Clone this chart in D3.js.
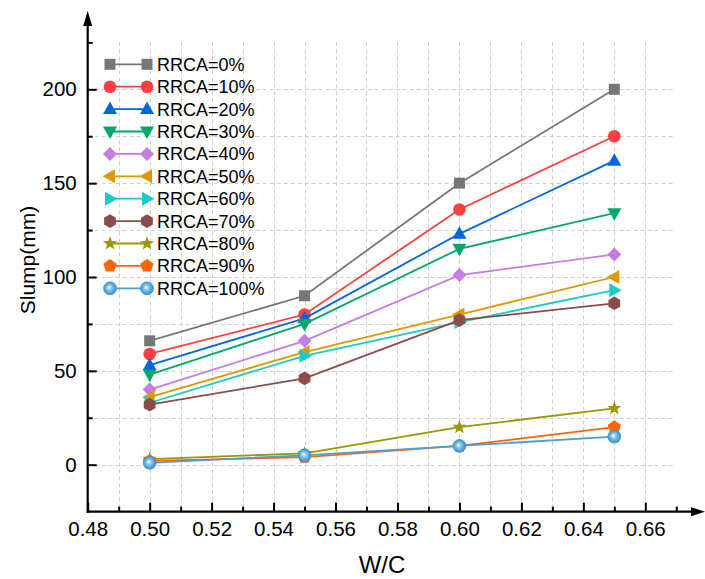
<!DOCTYPE html>
<html>
<head>
<meta charset="utf-8">
<script src="https://cdn.jsdelivr.net/npm/d3@7"></script>
<style>
  body { margin: 0; background: #fff; }
  svg { display: block; font-family: Arial, "Liberation Sans", sans-serif; }
</style>
</head>
<body>
<div id="viz"></div>
<script>
// data
var wc = [0.50, 0.55, 0.60, 0.65];
var names = ["RRCA=0%", "RRCA=10%", "RRCA=20%", "RRCA=30%", "RRCA=40%", "RRCA=50%",
             "RRCA=60%", "RRCA=70%", "RRCA=80%", "RRCA=90%", "RRCA=100%"];
var rrca0   = [66, 90, 150, 200];
var rrca10  = [59, 80, 136, 175];
var rrca20  = [53, 78, 123, 162];
var rrca30  = [48, 75, 115, 134];
var rrca40  = [40, 66, 101, 112];
var rrca50  = [36, 60, 80, 100];
var rrca60  = [33, 58, 76, 93];
var rrca70  = [32, 46, 77, 86];
var rrca80  = [3, 6, 20, 30];
var rrca90  = [2, 4, 10, 20];
var rrca100 = [1, 5, 10, 15];
var xTicks = [0.48, 0.50, 0.52, 0.54, 0.56, 0.58, 0.60, 0.62, 0.64, 0.66];
var xMinor = [0.49, 0.51, 0.53, 0.55, 0.57, 0.59, 0.61, 0.63, 0.65, 0.67];
var yTicks = [0, 50, 100, 150, 200];
var yMinor = [25, 75, 125, 175, 225];

var values = [rrca0, rrca10, rrca20, rrca30, rrca40, rrca50, rrca60, rrca70, rrca80, rrca90, rrca100];
var colours = ["#777777", "#ff4040", "#0066e0", "#00a86b", "#c77ce3", "#dc9a00",
               "#18cccc", "#8a4b4b", "#999900", "#ff6600", "#4a9fd5"];
var shapes = ["square", "circle", "up", "down", "diamond", "left", "right", "hex", "star", "pent", "ball"];

var w = 705, h = 579;
var x = d3.scaleLinear().domain([0.48, 0.66]).range([87.7, 645.3]);
var y = d3.scaleLinear().domain([0, 200]).range([464.7, 89.3]);
var yBottom = y(-25), yTop = y(225), xRight = x(0.6695);

var svg = d3.select("#viz").append("svg")
  .attr("width", w)
  .attr("height", h);

var defs = svg.append("defs");
var grad = defs.append("radialGradient")
  .attr("id", "ball")
  .attr("cx", "0.5").attr("cy", "0.5").attr("r", "0.55")
  .attr("fx", "0.42").attr("fy", "0.42");
grad.append("stop").attr("offset", "0").attr("stop-color", "#ffffff");
grad.append("stop").attr("offset", "0.35").attr("stop-color", "#8cc6ec");
grad.append("stop").attr("offset", "0.75").attr("stop-color", "#4a9fd5");
grad.append("stop").attr("offset", "1").attr("stop-color", "#3a88bd");

// grid
var grid = svg.append("g").attr("class", "grid")
  .attr("stroke", "#cfcfcf").attr("stroke-width", 1).attr("stroke-dasharray", "4,3");
grid.selectAll("line.h")
  .data(yTicks.concat(yMinor.filter(function(d){ return d < 225; })))
  .enter().append("line")
    .attr("class", "h")
    .attr("x1", x(0.48)).attr("x2", xRight)
    .attr("y1", function(d){ return Math.round(y(d)) + 0.5; })
    .attr("y2", function(d){ return Math.round(y(d)) + 0.5; });
grid.selectAll("line.v")
  .data(xTicks.concat(xMinor).filter(function(d){ return d > 0.485 && d < 0.665; }))
  .enter().append("line")
    .attr("class", "v")
    .attr("x1", function(d){ return Math.round(x(d)) + 0.5; })
    .attr("x2", function(d){ return Math.round(x(d)) + 0.5; })
    .attr("y1", yTop).attr("y2", yBottom);

// axes
function styleAxis(g){
  g.attr("font-family", null).attr("font-size", null);
  g.select(".domain").remove();
  g.selectAll(".tick line").attr("stroke", "#000").attr("stroke-width", 2);
  g.selectAll(".tick text").attr("fill", "#000").style("font-size", "20.5px");
}

svg.append("g")
  .attr("transform", "translate(0," + yBottom + ")")
  .call(d3.axisBottom(x).tickValues(xTicks).tickSize(-9).tickPadding(10).tickFormat(d3.format(".2f")))
  .call(styleAxis);
svg.append("g")
  .attr("transform", "translate(0," + yBottom + ")")
  .call(d3.axisBottom(x).tickValues(xMinor).tickSize(-5).tickFormat(""))
  .call(styleAxis);
svg.append("g")
  .attr("transform", "translate(" + x(0.48) + ",0)")
  .call(d3.axisLeft(y).tickValues(yTicks).tickSize(-9).tickPadding(11).tickFormat(d3.format("d")))
  .call(styleAxis);
svg.append("g")
  .attr("transform", "translate(" + x(0.48) + ",0)")
  .call(d3.axisLeft(y).tickValues(yMinor).tickSize(-5).tickFormat(""))
  .call(styleAxis);

var axes = svg.append("g");
axes.append("line")
  .attr("x1", x(0.48) - 1).attr("x2", 695)
  .attr("y1", yBottom).attr("y2", yBottom)
  .attr("stroke", "#000").attr("stroke-width", 2.2);
axes.append("path")
  .attr("d", "M705," + yBottom + "L691," + (yBottom - 4.5) + "L691," + (yBottom + 4.5) + "Z")
  .attr("fill", "#000");
axes.append("line")
  .attr("x1", x(0.48)).attr("x2", x(0.48))
  .attr("y1", yBottom + 1).attr("y2", 24)
  .attr("stroke", "#000").attr("stroke-width", 2.2);
axes.append("path")
  .attr("d", "M" + x(0.48) + ",11L" + (x(0.48) - 4.5) + ",26L" + (x(0.48) + 4.5) + ",26Z")
  .attr("fill", "#000");

// axis titles
svg.append("text")
  .attr("x", 382).attr("y", 573)
  .attr("text-anchor", "middle")
  .style("font-size", "24px")
  .text("W/C");
svg.append("text")
  .attr("transform", "translate(35,260) rotate(-90)")
  .attr("text-anchor", "middle")
  .style("font-size", "21px")
  .text("Slump(mm)");

// marker shapes
function shapePath(kind){
  var p, i, a, r;
  function poly(n, r, rot){
    var s = "";
    for (i = 0; i < n; i++) {
      a = rot + i * 2 * Math.PI / n;
      s += (i ? "L" : "M") + (r * Math.cos(a)).toFixed(2) + "," + (r * Math.sin(a)).toFixed(2);
    }
    return s + "Z";
  }
  switch (kind) {
    case "square": return "M-5.5,-5.5H5.5V5.5H-5.5Z";
    case "up": return "M0,-7.5L7,5L-7,5Z";
    case "down": return "M0,7.5L7,-5L-7,-5Z";
    case "left": return "M-7.5,0L5,-7L5,7Z";
    case "right": return "M7.5,0L-5,-7L-5,7Z";
    case "diamond": return "M0,-7L7,0L0,7L-7,0Z";
    case "hex": return poly(6, 6.8, -Math.PI / 2);
    case "pent": return poly(5, 7, -Math.PI / 2);
    case "star":
      p = "";
      for (i = 0; i < 10; i++) {
        a = -Math.PI / 2 + i * Math.PI / 5;
        r = i % 2 ? 3 : 7.5;
        p += (i ? "L" : "M") + (r * Math.cos(a)).toFixed(2) + "," + (r * Math.sin(a)).toFixed(2);
      }
      return p + "Z";
    default: return null;
  }
}

function addMarker(g, kind, colour, cx, cy){
  if (kind === "circle" || kind === "ball") {
    g.append("circle")
      .attr("cx", cx).attr("cy", cy)
      .attr("r", kind === "ball" ? 6.5 : 6.3)
      .attr("fill", kind === "ball" ? "url(#ball)" : colour)
      .attr("stroke", kind === "ball" ? "#3a8cc4" : "none")
      .attr("stroke-width", 0.6);
  } else {
    g.append("path")
      .attr("transform", "translate(" + cx + "," + cy + ")")
      .attr("d", shapePath(kind))
      .attr("fill", colour);
  }
}

// series
var line = d3.line()
  .x(function(d, i){ return x(wc[i]); })
  .y(function(d){ return y(d); });

var plot = svg.append("g").attr("class", "series");
values.forEach(function(vals, s){
  var g = plot.append("g");
  g.append("path")
    .attr("d", line(vals))
    .attr("fill", "none")
    .attr("stroke", colours[s])
    .attr("stroke-width", 1.8);
  vals.forEach(function(v, i){
    addMarker(g, shapes[s], colours[s], x(wc[i]), y(v));
  });
});

// legend
var legend = svg.append("g").attr("class", "legend");
names.forEach(function(name, s){
  var ly = 64.3 + s * 22.4;
  var g = legend.append("g");
  g.append("line")
    .attr("x1", 110).attr("x2", 147)
    .attr("y1", ly).attr("y2", ly)
    .attr("stroke", colours[s]).attr("stroke-width", 1.8);
  addMarker(g, shapes[s], colours[s], 110, ly);
  addMarker(g, shapes[s], colours[s], 147, ly);
  g.append("text")
    .attr("x", 157).attr("y", ly)
    .attr("dy", "0.36em")
    .style("font-size", "18px")
    .text(name);
});
</script>
</body>
</html>
